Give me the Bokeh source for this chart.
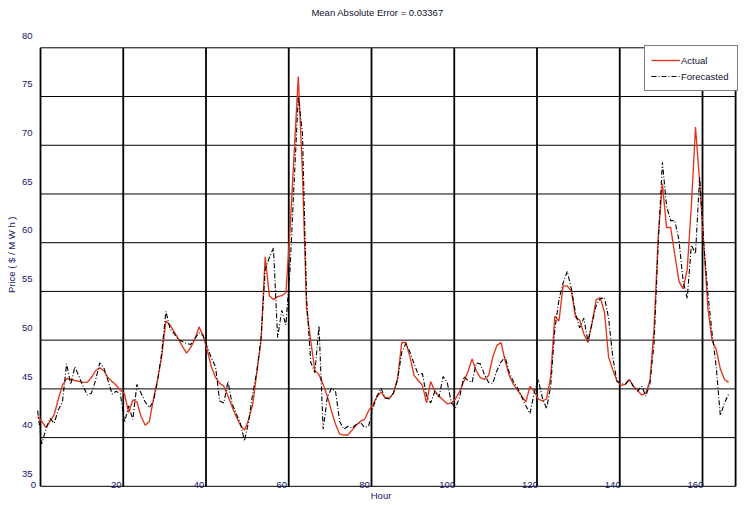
import math
from bokeh.plotting import figure
from bokeh.models import (Range1d, Legend, LegendItem, ColumnDataSource, Label,
                          LabelSet)
from bokeh.core.properties import value
from bokeh.embed import file_html
from bokeh.resources import INLINE

# ---------------- data ----------------
hours = list(range(1, 169))

actual = [
    40.9, 40.4, 39.8, 40.4, 41.1, 42.7, 44.1, 44.8, 44.7, 44.6,
    44.5, 44.4, 44.4, 44.9, 45.6, 45.9, 45.6, 44.9, 44.5, 44.1,
    43.6, 43.2, 41.3, 42.6, 42.4, 40.9, 40.0, 40.4, 42.7, 44.7,
    47.1, 50.7, 50.3, 49.6, 48.9, 48.1, 47.4, 48.0, 48.8, 50.1,
    49.2, 47.7, 46.0, 44.9, 44.3, 44.0, 43.0, 41.9, 40.9, 40.0,
    39.5, 40.6, 42.2, 45.5, 48.7, 57.3, 53.3, 52.9, 53.2, 53.3,
    53.6, 60.0, 68.0, 75.8, 66.0, 52.0, 48.7, 45.6, 45.2, 44.2,
    43.0, 41.5, 40.1, 39.1, 39.0, 39.0, 39.5, 40.0, 40.4, 40.6,
    41.5, 42.1, 42.9, 43.4, 42.8, 42.8, 43.3, 44.8, 48.5, 48.5,
    47.0, 45.1, 44.6, 44.1, 42.3, 44.5, 43.5, 43.0, 42.6, 42.2,
    42.3, 42.7, 43.5, 44.5, 45.5, 46.8, 45.6, 44.9, 44.7, 45.1,
    47.0, 48.2, 48.5, 46.6, 45.1, 44.2, 43.6, 43.0, 42.4, 44.0,
    43.5, 42.7, 42.5, 42.7, 45.0, 51.2, 50.7, 54.3, 54.3, 53.8,
    51.1, 50.8, 49.4, 48.5, 50.5, 52.9, 53.1, 51.6, 47.0, 45.7,
    44.6, 44.1, 44.2, 44.7, 44.0, 43.6, 43.1, 43.3, 44.6, 50.0,
    59.5, 64.8, 60.3, 60.3, 57.5, 54.8, 54.0, 56.0, 62.5, 70.6,
    65.0, 58.6, 52.0, 48.7, 47.8, 45.8, 44.7, 44.4,
]

forecast = [
    41.5, 38.1, 39.6, 40.7, 40.2, 41.6, 42.4, 46.3, 44.2, 46.0,
    45.0, 44.0, 43.1, 43.3, 44.6, 46.4, 45.9, 44.6, 43.2, 43.5,
    43.2, 40.3, 42.0, 40.6, 44.2, 43.3, 42.4, 41.8, 42.5, 44.6,
    47.5, 51.7, 49.9, 49.4, 48.8, 48.6, 48.4, 48.3, 48.9, 49.5,
    49.2, 48.0, 46.9, 46.0, 42.5, 42.3, 44.5, 42.2, 41.2, 40.2,
    38.4, 40.4, 43.3, 45.6, 49.0, 56.0, 57.2, 58.2, 49.0, 51.8,
    50.3, 56.0, 65.0, 73.7, 70.0, 53.0, 46.5, 45.4, 50.2, 39.6,
    42.8, 43.8, 43.5, 40.4, 39.6, 39.9, 39.7, 40.1, 40.3, 39.8,
    39.9, 41.7, 43.0, 43.8, 42.8, 42.7, 43.3, 44.7, 47.5, 48.4,
    47.5, 46.3, 45.2, 45.3, 43.0, 42.3, 43.5, 42.9, 45.0, 44.4,
    42.3, 41.8, 42.9, 45.0, 44.6, 44.4, 46.4, 46.3, 45.2, 44.4,
    44.3, 45.6, 46.5, 47.0, 45.4, 44.5, 43.8, 42.9, 42.0, 41.2,
    43.3, 44.7, 42.8, 41.7, 44.0, 49.8, 52.9, 54.6, 55.8, 54.0,
    51.5, 50.0, 51.0, 48.6, 50.5, 52.3, 53.0, 53.1, 51.0, 47.0,
    44.5, 44.3, 44.2, 44.7, 44.0, 43.5, 44.0, 43.0, 44.3, 48.5,
    58.7, 67.0, 62.5, 61.0, 61.0, 59.0, 54.8, 53.0, 58.5, 57.6,
    65.5, 58.6, 53.5, 49.5, 46.0, 41.0, 42.3, 43.2,
]

x_ticks = [0, 20, 40, 60, 80, 100, 120, 140, 160]
x_max = 168
y_ticks = [35, 40, 45, 50, 55, 60, 65, 70, 75, 80]

title_text = "Mean Absolute Error = 0.03367"
x_label = "Hour"
y_label = "Price ( $ / M W h )"
series_names = ["Actual", "Forecasted"]

# ---------------- layout / style ----------------
FONT = "Liberation Sans"
TXT = "#16166a"
DARK = "#101030"
RED = "#e3341c"
FS = "9.5px"

W, H = 740, 503            # whole canvas is the plotting frame
PX_H = 4.1375              # pixels per hour
PX_V = 9.745               # pixels per price unit
AXIS_LEFT_PX = 33          # canvas x of the first x tick
TOP_PX = 35                # canvas y (from top) of the top y tick

y_lo, y_hi = y_ticks[0], y_ticks[-1]


def dx(px):
    return px / PX_H


def dy(px):
    return px / PX_V


x_range = Range1d(x_ticks[0] - dx(AXIS_LEFT_PX), x_ticks[0] + dx(W - AXIS_LEFT_PX))
y_range = Range1d(y_hi - dy(H - TOP_PX), y_hi + dy(TOP_PX))

# the original grid/box is drawn shifted from the tick positions
GRID_DX = dx(7.0)
GRID_DY = dy(12.3)
box_left = x_ticks[0] + GRID_DX
box_right = x_max + GRID_DX
box_bottom = y_lo - GRID_DY
box_top = y_hi - GRID_DY

p = figure(
    width=W, height=H, x_range=x_range, y_range=y_range,
    x_axis_location=None, y_axis_location=None,
    output_backend="svg", toolbar_location=None, min_border=0,
)
p.grid.visible = False
p.background_fill_color = "white"
p.border_fill_color = "white"
p.outline_line_color = None

# box and grid lines
vx = [t + GRID_DX for t in x_ticks + [x_max]]
p.segment(x0=vx, y0=[box_bottom] * len(vx), x1=vx, y1=[box_top] * len(vx),
          line_color="black", line_width=1.8)
hy = [v - GRID_DY for v in y_ticks]
p.segment(x0=[box_left] * len(hy), y0=hy, x1=[box_right] * len(hy), y1=hy,
          line_color="black", line_width=1.0)

# series
src = ColumnDataSource(data=dict(hour=hours, actual=actual, forecast=forecast))
r_act = p.line("hour", "actual", source=src, line_color=RED, line_width=1.35)
r_fc = p.line("hour", "forecast", source=src, line_color="black", line_width=1.1,
              line_dash="5 2 1 2")
# marker shown only in the legend entry of the actual series
r_dot = p.scatter(x=[], y=[], marker="square", size=3, color="black")

# tick labels
ytick_src = ColumnDataSource(data=dict(
    x=[x_ticks[0] - dx(1)] * len(y_ticks), y=y_ticks, text=[str(v) for v in y_ticks]))
p.add_layout(LabelSet(x="x", y="y", text="text", source=ytick_src,
                      text_align="right", text_baseline="middle",
                      text_font=value(FONT), text_font_size=FS, text_color=TXT))
xtick_src = ColumnDataSource(data=dict(
    x=x_ticks, y=[y_lo - dy(10.5)] * len(x_ticks), text=[str(t) for t in x_ticks]))
p.add_layout(LabelSet(x="x", y="y", text="text", source=xtick_src,
                      text_align="center", text_baseline="middle",
                      text_font=value(FONT), text_font_size=FS, text_color=TXT))

# axis titles and chart title
x_mid = (x_ticks[0] + x_max) / 2
y_mid = (y_lo + y_hi) / 2
p.add_layout(Label(x=x_mid, y=y_lo - dy(21.5), text=x_label,
                   text_align="center", text_baseline="middle",
                   text_font=FONT, text_font_size=FS, text_color=TXT))
p.add_layout(Label(x=x_ticks[0] - dx(22), y=y_mid, text=y_label, angle=math.pi / 2,
                   text_align="center", text_baseline="middle",
                   text_font=FONT, text_font_size=FS, text_color=TXT))
p.add_layout(Label(x=x_mid - dx(3.5), y=y_hi + dy(23), text=title_text,
                   text_align="center", text_baseline="middle",
                   text_font=FONT, text_font_size=FS, text_color=DARK))

# legend (top-right corner of the box)
LEG_PAD, LEG_ROW = 6, 16
leg_h = 2 * LEG_PAD + 2 * LEG_ROW
leg_left_px = 644
leg_bottom_px = H - (TOP_PX + 12.3 + leg_h)
legend = Legend(
    items=[LegendItem(label=series_names[0], renderers=[r_act, r_dot]),
           LegendItem(label=series_names[1], renderers=[r_fc])],
    location=(leg_left_px, leg_bottom_px),
    orientation="vertical",
    padding=LEG_PAD, spacing=0, margin=0,
    glyph_width=29, glyph_height=LEG_ROW, label_height=LEG_ROW, label_width=50,
    label_standoff=1,
    label_text_font=FONT, label_text_font_size=FS, label_text_color=DARK,
    border_line_color="black", border_line_width=1.5,
    background_fill_color="white", background_fill_alpha=1.0,
)
p.add_layout(legend)

open("out.html", "w").write(file_html(p, INLINE))
